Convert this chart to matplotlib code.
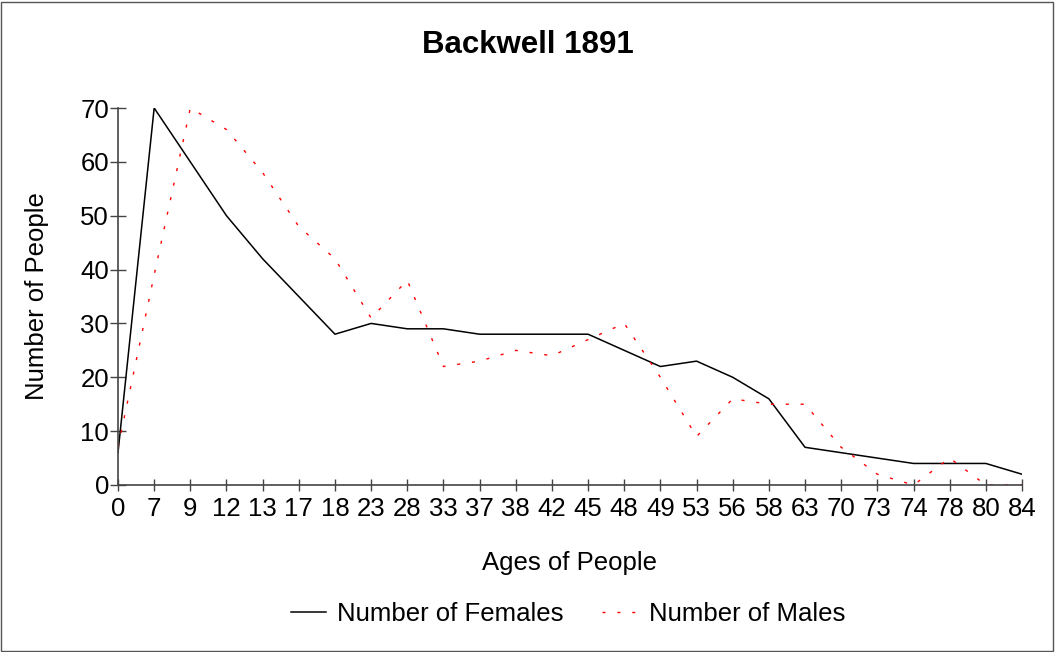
import matplotlib.pyplot as plt
from matplotlib.patches import Rectangle

ages = ["0", "7", "9", "12", "13", "17", "18", "23", "28", "33", "37", "38", "42",
        "45", "48", "49", "53", "56", "58", "63", "70", "73", "74", "78", "80", "84"]
females = [6, 70, 60, 50, 42, 35, 28, 30, 29, 29, 28, 28, 28,
           28, 25, 22, 23, 20, 16, 7, 6, 5, 4, 4, 4, 2]
males = [7, 39, 70, 66, 58, 48, 42, 31, 38, 22, 23, 25, 24,
         27, 30, 20, 9, 16, 15, 15, 7, 2, 0, 5, 0, 0]

plt.rcParams['font.family'] = ['Liberation Sans', 'DejaVu Sans']

fig = plt.figure(figsize=(10.55, 6.52), dpi=100)
ax = fig.add_axes([118 / 1055, 1 - 485 / 652, (1022 - 118) / 1055, (485 - 108) / 652])

x = list(range(len(ages)))
ax.plot(x, females, color='black', lw=1.1, label='Number of Females')
ax.plot(x, males, color='red', lw=1.0, dashes=(2.2, 8.5), label='Number of Males')

ax.set_xlim(0, len(ages) - 1)
ax.set_ylim(0, 70)
ax.set_xticks(x)
ax.set_xticklabels(ages)
ax.set_yticks(range(0, 71, 10))
for s in ['top', 'right']:
    ax.spines[s].set_visible(False)
for s in ['left', 'bottom']:
    ax.spines[s].set_color('#444444')
    ax.spines[s].set_linewidth(1.2)
ax.tick_params(axis='both', direction='inout', width=1, color='#444444', labelsize=18.5)
ax.tick_params(axis='y', length=11, pad=1)
ax.tick_params(axis='x', length=9, pad=4)

fig.text(0.5, 1 - 45 / 652, 'Backwell 1891', ha='center', va='center',
         fontsize=22.5, fontweight='bold')
fig.text(570 / 1055, 1 - 563 / 652, 'Ages of People', ha='center', va='center', fontsize=18.5)
fig.text(37 / 1055, 1 - 296 / 652, 'Number of People', ha='center', va='center',
         fontsize=18.5, rotation=90)

fig.legend(loc='center', bbox_to_anchor=(568 / 1055, 1 - 614 / 652), ncol=2,
           frameon=False, fontsize=18.5, handlelength=1.35, columnspacing=1.5,
           handletextpad=0.45)

fig.patches.append(Rectangle((1 / 1055, 1 / 652), 1 - 3 / 1055, 1 - 3 / 652,
                             transform=fig.transFigure, fill=False,
                             edgecolor='#555555', lw=1))

fig.savefig('out.png', dpi=100)
